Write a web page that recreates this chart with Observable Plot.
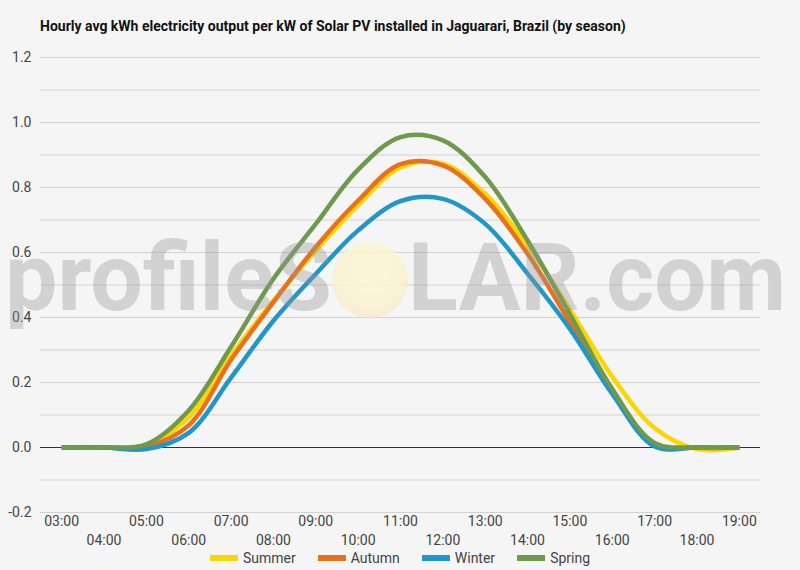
<!DOCTYPE html>
<html>
<head>
<meta charset="utf-8">
<script src="https://cdn.jsdelivr.net/npm/d3@7"></script>
<script src="https://cdn.jsdelivr.net/npm/@observablehq/plot@0.6"></script>
<style>
  html, body { margin: 0; padding: 0; }
  body { width: 800px; height: 570px; background: #f5f5f5; font-family: Roboto, sans-serif; position: relative; overflow: hidden; }
  #title { position: absolute; left: 40px; top: 18px; font-weight: bold; font-size: 14px; color: #111; white-space: nowrap; }
  #chart { position: absolute; left: 0; top: 0; }
  #legend { position: absolute; left: 0; top: 550px; width: 800px; display: flex; justify-content: center; font-size: 14px; color: #444; }
  .item { display: flex; align-items: center; margin: 0 11px; }
  .sw { width: 28px; height: 6px; margin-right: 5px; }
  #wm { position: absolute; left: 0; top: 0; pointer-events: none; }
</style>
</head>
<body>
<div id="title">Hourly avg kWh electricity output per kW of Solar PV installed in Jaguarari, Brazil (by season)</div>
<div id="chart"></div>
<div id="legend"></div>
<svg id="wm" width="800" height="570">
  <defs>
    <radialGradient id="sun" cx="50%" cy="40%" r="62%">
      <stop offset="0%" stop-color="#fbf8d4" stop-opacity="0.85"/>
      <stop offset="70%" stop-color="#faf3cc" stop-opacity="0.8"/>
      <stop offset="100%" stop-color="#f9e6cc" stop-opacity="0.75"/>
    </radialGradient>
  </defs>
  <g font-family="Roboto, sans-serif" font-size="95" font-weight="700" fill="rgba(150,150,150,0.36)">
    <text x="5" y="310" textLength="327" lengthAdjust="spacingAndGlyphs">profileS</text>
    <text x="408" y="310" textLength="378" lengthAdjust="spacingAndGlyphs">LAR.com</text>
  </g>
  <ellipse cx="370" cy="280" rx="38" ry="38" fill="url(#sun)"/>
</svg>
<script>
const hours = [3,4,5,6,7,8,9,10,11,12,13,14,15,16,17,18,19];
const seasons = ["Summer","Autumn","Winter","Spring"];
const colors = ["#fdd500","#e8711d","#2196c9","#6d9a4d"];
const summer = [0,0,0.008,0.093,0.283,0.452,0.606,0.745,0.862,0.873,0.780,0.622,0.425,0.218,0.060,-0.005,0];
const autumn = [0,0,0.003,0.068,0.270,0.447,0.617,0.760,0.872,0.868,0.765,0.596,0.385,0.172,0.006,0,0];
const winter = [0,0,-0.005,0.045,0.215,0.390,0.534,0.668,0.758,0.765,0.688,0.535,0.365,0.165,0.003,0,0];
const spring = [0,0,0.010,0.114,0.310,0.519,0.688,0.855,0.955,0.945,0.832,0.637,0.410,0.180,0.014,0,0];
const yTicks = [-0.2,0,0.2,0.4,0.6,0.8,1.0,1.2];
const yGrid = [-0.2,-0.1,0,0.1,0.2,0.3,0.4,0.5,0.6,0.7,0.8,0.9,1.0,1.1,1.2];
const xTop = [3,5,7,9,11,13,15,17,19];
const xBottom = [4,6,8,10,12,14,16,18];

const series = [summer, autumn, winter, spring];
const data = seasons.flatMap((s, i) => hours.map((h, j) => ({hour: h, value: series[i][j], season: s})));
const fmtH = h => String(h).padStart(2, "0") + ":00";

const chart = Plot.plot({
  width: 800,
  height: 548,
  marginTop: 57,
  marginBottom: 36,
  marginLeft: 40,
  marginRight: 40,
  style: {background: "transparent", fontFamily: "Roboto, sans-serif", fontSize: "14px", color: "#444"},
  x: {domain: [2.5, 19.5]},
  y: {domain: [-0.2, 1.2]},
  color: {domain: seasons, range: colors},
  marks: [
    Plot.gridY(yGrid, {stroke: "#d2d2d2", strokeOpacity: 1}),
    Plot.axisY(yTicks, {tickSize: 0, tickPadding: 9, tickFormat: d => d.toFixed(1), label: null, fontSize: 14}),
    Plot.axisX(xTop, {tickSize: 0, tickPadding: 4, tickFormat: fmtH, label: null, fontSize: 14}),
    Plot.axisX(xBottom, {tickSize: 0, tickPadding: 23, tickFormat: fmtH, label: null, fontSize: 14}),
    Plot.ruleY([0], {stroke: "#333", strokeWidth: 1.2}),
    Plot.line(data, {x: "hour", y: "value", z: "season", stroke: "season", strokeWidth: 4.5, curve: "catmull-rom", strokeLinecap: "butt"})
  ]
});
document.getElementById("chart").appendChild(chart);

const legend = document.getElementById("legend");
seasons.forEach((s, i) => {
  const it = document.createElement("div");
  it.className = "item";
  it.innerHTML = `<span class="sw" style="background:${colors[i]}"></span><span>${s}</span>`;
  legend.appendChild(it);
});
</script>
</body>
</html>
